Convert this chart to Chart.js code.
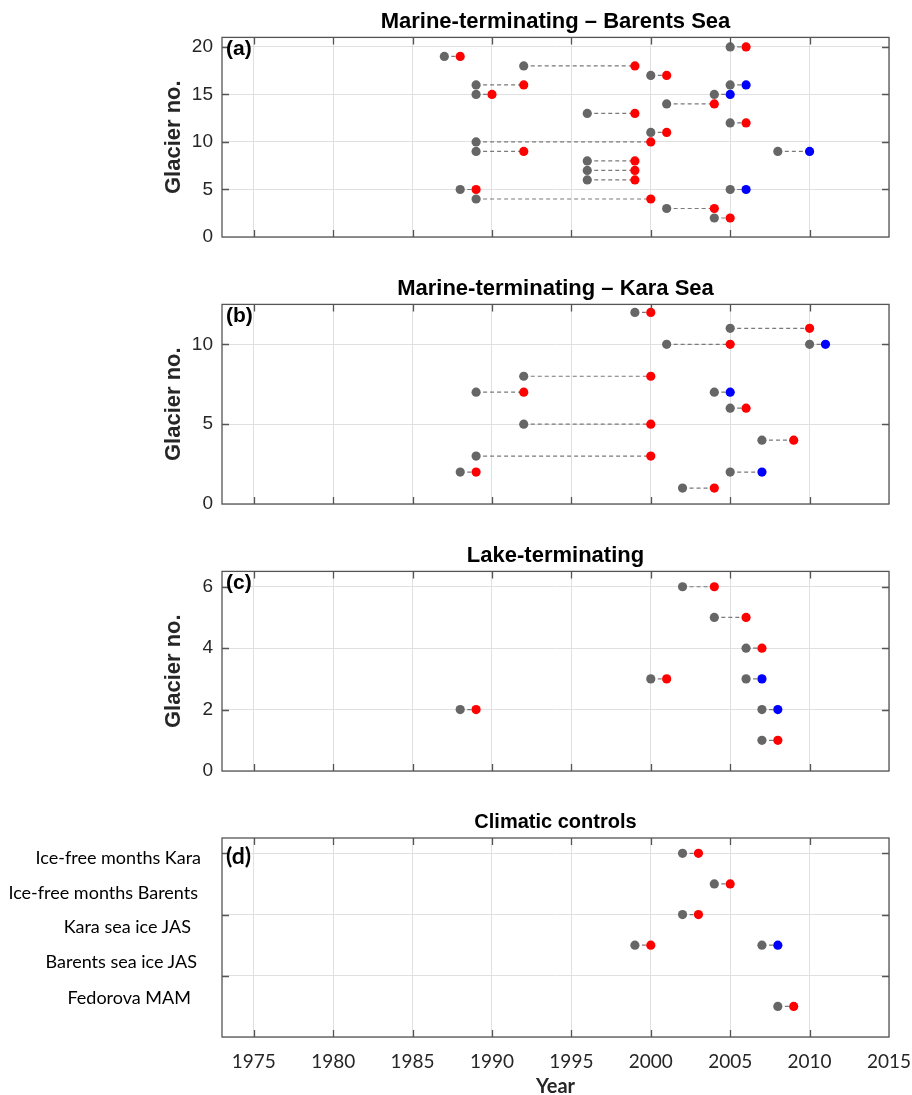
<!DOCTYPE html>
<html>
<head>
<meta charset="utf-8">
<script src="https://cdn.jsdelivr.net/npm/chart.js@4.4.1/dist/chart.umd.min.js"></script>
<style>
    body { margin: 0; background: #fff; }
    #wrap { position: relative; width: 912px; height: 1095px; overflow: hidden; }
    #wrap canvas { position: absolute; left: 0; }
    .lab { position: absolute; font-family: Lato, "Open Sans", sans-serif; font-size: 18px; color: #000;
           white-space: nowrap; transform: translateY(-50%); text-align: right; }
</style>
</head>
<body>
<div id="wrap">
    <canvas id="pa" width="912" height="267" style="top:0px"></canvas>
    <canvas id="pb" width="912" height="267" style="top:267px"></canvas>
    <canvas id="pc" width="912" height="267" style="top:534px"></canvas>
    <canvas id="pd" width="912" height="295" style="top:800px"></canvas>
    <div class="lab" style="right:711px; top:857px">Ice-free months Kara</div>
    <div class="lab" style="right:714px; top:892px">Ice-free months Barents</div>
    <div class="lab" style="right:721px; top:926px">Kara sea ice JAS</div>
    <div class="lab" style="right:715px; top:961px">Barents sea ice JAS</div>
    <div class="lab" style="right:721px; top:997px">Fedorova MAM</div>
</div>
<script>
//  glacier terminus change periods, four panels

// x axis (years)
const xMin = 1973, xMax = 2015;
const xTicks = [1975, 1980, 1985, 1990, 1995, 2000, 2005, 2010, 2015];

// (a) Marine-terminating - Barents Sea
const aGlacier = [20, 19, 18, 17, 16, 16, 15, 15, 14, 13, 12, 11, 10, 9, 9, 8, 7, 6, 5, 5, 4, 3, 2];
const aStart = [2005, 1987, 1992, 2000, 1989, 2005, 1989, 2004, 2001, 1996, 2005, 2000, 1989, 1989, 2008, 1996, 1996, 1996, 1988, 2005, 1989, 2001, 2004];
const aEnd = [2006, 1988, 1999, 2001, 1992, 2006, 1990, 2005, 2004, 1999, 2006, 2001, 2000, 1992, 2010, 1999, 1999, 1999, 1989, 2006, 2000, 2004, 2005];
const aKind = ['r', 'r', 'r', 'r', 'r', 'b', 'r', 'b', 'r', 'r', 'r', 'r', 'r', 'r', 'b', 'r', 'r', 'r', 'r', 'b', 'r', 'r', 'r'];
const aYTicks = [0, 5, 10, 15, 20];

// (b) Marine-terminating - Kara Sea
const bGlacier = [12, 11, 10, 10, 8, 7, 7, 6, 5, 4, 3, 2, 2, 1];
const bStart = [1999, 2005, 2001, 2010, 1992, 1989, 2004, 2005, 1992, 2007, 1989, 1988, 2005, 2002];
const bEnd = [2000, 2010, 2005, 2011, 2000, 1992, 2005, 2006, 2000, 2009, 2000, 1989, 2007, 2004];
const bKind = ['r', 'r', 'r', 'b', 'r', 'r', 'b', 'r', 'r', 'r', 'r', 'r', 'b', 'r'];
const bYTicks = [0, 5, 10];

// (c) Lake-terminating
const cGlacier = [6, 5, 4, 3, 3, 2, 2, 1];
const cStart = [2002, 2004, 2006, 2000, 2006, 1988, 2007, 2007];
const cEnd = [2004, 2006, 2007, 2001, 2007, 1989, 2008, 2008];
const cKind = ['r', 'r', 'r', 'r', 'b', 'r', 'b', 'r'];
const cYTicks = [0, 2, 4, 6];

// (d) Climatic controls (rows: 6 Ice-free Kara, 5 Ice-free Barents, 4 Kara sea ice, 3 Barents sea ice, 1 Fedorova)
const dRow = [6, 5, 4, 3, 3, 1];
const dStart = [2002, 2004, 2002, 1999, 2007, 2008];
const dEnd = [2003, 2005, 2003, 2000, 2008, 2009];
const dKind = ['r', 'r', 'r', 'r', 'b', 'r'];
const dYTicks = [0, 2, 4, 6];

const kindColor = { r: '#ff0000', b: '#0000ff' };
const greyCol = '#666666';
const sansFont = "'Liberation Sans', Arial, sans-serif";
const lato = "Lato, 'Open Sans', sans-serif";

// box round the plot, inward ticks, panel letter
const boxPlugin = {
    id: 'box',
    afterDraw(chart, args, opts) {
        const { ctx, chartArea: a, scales } = chart;
        const x = scales.x, y = scales.y;
        ctx.save();
        ctx.strokeStyle = '#555';
        ctx.lineWidth = 1.3;
        ctx.beginPath();
        x.ticks.forEach(t => {
            const px = Math.round(x.getPixelForValue(t.value)) + 0.5;
            if (px <= a.left + 2 || px >= a.right - 2) return;
            ctx.moveTo(px, a.bottom); ctx.lineTo(px, a.bottom - 7);
            ctx.moveTo(px, a.top); ctx.lineTo(px, a.top + 7);
        });
        y.ticks.forEach(t => {
            const py = Math.round(y.getPixelForValue(t.value)) + 0.5;
            if (py <= a.top + 2 || py >= a.bottom - 2) return;
            ctx.moveTo(a.left, py); ctx.lineTo(a.left + 7, py);
            ctx.moveTo(a.right, py); ctx.lineTo(a.right - 7, py);
        });
        ctx.stroke();
        ctx.strokeRect(a.left, a.top, a.width, a.height);
        ctx.fillStyle = '#000';
        ctx.font = opts.font;
        ctx.textBaseline = 'middle';
        ctx.fillText(opts.letter, a.left + 4, a.top + opts.letterY);
        ctx.restore();
    }
};

makePanel('pa', { glacier: aGlacier, start: aStart, end: aEnd, kind: aKind, yTicks: aYTicks, ymax: 21,
    title: 'Marine-terminating \u2013 Barents Sea', letter: '(a)', yLabel: 'Glacier no.', showX: false });
makePanel('pb', { glacier: bGlacier, start: bStart, end: bEnd, kind: bKind, yTicks: bYTicks, ymax: 12.5,
    title: 'Marine-terminating \u2013 Kara Sea', letter: '(b)', yLabel: 'Glacier no.', showX: false });
makePanel('pc', { glacier: cGlacier, start: cStart, end: cEnd, kind: cKind, yTicks: cYTicks, ymax: 6.5,
    title: 'Lake-terminating', letter: '(c)', yLabel: 'Glacier no.', showX: false });
makePanel('pd', { glacier: dRow, start: dStart, end: dEnd, kind: dKind, yTicks: dYTicks, ymax: 6.5,
    title: 'Climatic controls', letter: '(d)', yLabel: '', showX: true });

function makePanel(id, p) {
    const starts = [], redEnds = [], blueEnds = [], links = [];
    p.glacier.forEach((g, i) => {
        const s = { x: p.start[i], y: g };
        const e = { x: p.end[i], y: g };
        starts.push(s);
        (p.kind[i] == 'b' ? blueEnds : redEnds).push(e);
        links.push(s, e, { x: p.end[i], y: null });
    });

    const isD = p.showX;
    new Chart(document.getElementById(id), {
        type: 'scatter',
        data: {
            datasets: [
                { data: redEnds, backgroundColor: kindColor.r, borderColor: kindColor.r, pointRadius: 4.6, borderWidth: 0 },
                { data: blueEnds, backgroundColor: kindColor.b, borderColor: kindColor.b, pointRadius: 4.6, borderWidth: 0 },
                { data: starts, backgroundColor: greyCol, borderColor: greyCol, pointRadius: 4.6, borderWidth: 0 },
                { data: links, showLine: true, spanGaps: false, pointRadius: 0, borderColor: '#7a7a7a',
                  borderWidth: 1.2, borderDash: [4, 3] }
            ]
        },
        options: {
            responsive: false,
            animation: false,
            devicePixelRatio: 1,
            layout: { padding: { left: 160, right: 23, top: 0, bottom: isD ? 0 : 30 } },
            plugins: {
                legend: { display: false },
                tooltip: { enabled: false },
                title: {
                    display: true, text: p.title, fullSize: false, color: '#000',
                    font: { family: sansFont, size: isD ? 20 : 22, weight: 'bold', lineHeight: 1.2 },
                    padding: { top: isD ? 10 : 9, bottom: isD ? 4 : 2 }
                },
                box: {
                    letter: p.letter,
                    letterY: isD ? 19 : 12,
                    font: isD ? "bold 23px " + lato : "bold 21px " + sansFont
                }
            },
            scales: {
                x: {
                    type: 'linear', min: xMin, max: xMax,
                    afterBuildTicks: s => { s.ticks = xTicks.map(v => ({ value: v })); },
                    afterFit: s => {
                        s.height = isD ? 58 : 0;
                        s.paddingLeft = 0;
                        s.paddingRight = 0;
                    },
                    grid: { color: '#e0e0e0', lineWidth: 1, drawTicks: false },
                    border: { display: false },
                    ticks: {
                        display: isD, padding: 13, color: '#262626', maxRotation: 0,
                        font: { family: lato, size: 19 },
                        callback: v => String(v)
                    },
                    title: {
                        display: isD, text: 'Year', color: '#262626',
                        font: { family: lato, size: 20, weight: 'bold', lineHeight: 0.8 },
                        padding: { top: 0, bottom: 0 }
                    }
                },
                y: {
                    type: 'linear', min: 0, max: p.ymax,
                    afterBuildTicks: s => { s.ticks = p.yTicks.map(v => ({ value: v })); },
                    afterFit: s => { s.width = 62; },
                    grid: { color: '#e0e0e0', lineWidth: 1, drawTicks: false },
                    border: { display: false },
                    ticks: {
                        display: !isD, padding: 9, color: '#262626',
                        font: { family: sansFont, size: 19 },
                        callback: v => String(v)
                    },
                    title: {
                        display: p.yLabel != '', text: p.yLabel, color: '#262626',
                        font: { family: sansFont, size: 22, weight: 'bold', lineHeight: 1.2 },
                        padding: { top: 1, bottom: 0 }
                    }
                }
            }
        },
        plugins: [boxPlugin]
    });
}
</script>
</body>
</html>
